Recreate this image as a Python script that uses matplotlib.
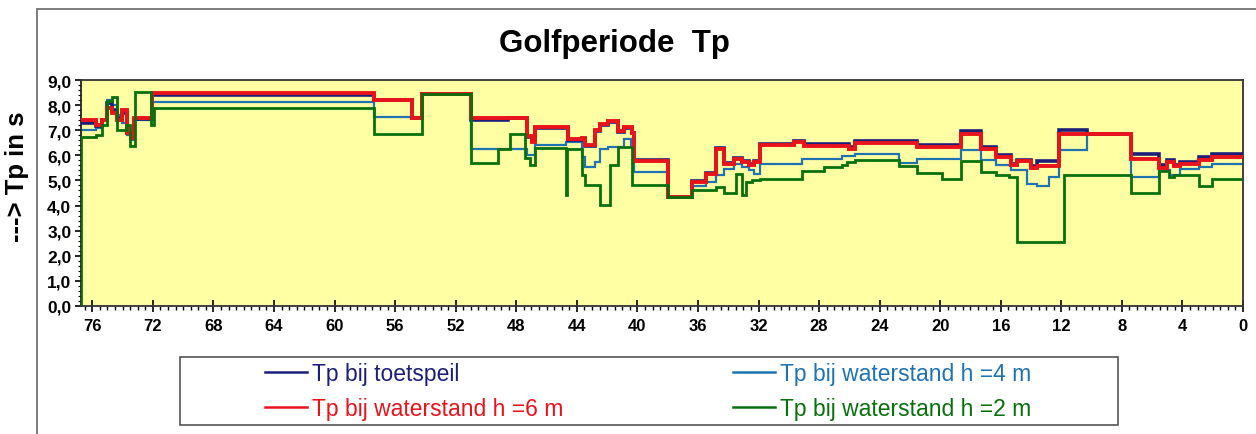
import matplotlib
matplotlib.use("Agg")
import matplotlib.pyplot as plt
from matplotlib.patches import Rectangle
from matplotlib.ticker import MultipleLocator, FuncFormatter

plt.rcParams['font.family'] = ['Liberation Sans', 'DejaVu Sans']

# step series: left edge of each segment (km, decreasing) and Tp value (s)
toets_x = [76.75, 75.78, 75.34, 75.01, 74.68, 74.35, 74.02, 73.69, 73.47, 73.25,
           72.04, 57.43, 54.90, 54.24, 50.99, 48.53, 47.32, 46.99, 46.77, 44.57,
           43.69, 43.47, 42.81, 42.48, 41.93, 41.27, 40.88, 40.35, 40.22, 37.98,
           36.38, 35.50, 34.84, 34.29, 33.63, 33.08, 32.64, 32.31, 31.87, 29.68,
           29.02, 26.05, 25.61, 21.54, 18.64, 17.32, 16.33, 15.34, 14.90, 14.02,
           13.58, 12.15, 10.29, 7.43, 5.56, 5.01, 4.57, 4.13, 2.92, 2.04]
toets_y = [7.30, 7.15, 7.40, 8.10, 7.80, 7.50, 7.70, 6.90, 6.70, 7.45,
           8.42, 8.22, 7.48, 8.45, 7.41, 7.50, 6.75, 6.60, 7.08, 6.62,
           6.66, 6.38, 6.95, 7.22, 7.32, 6.92, 7.08, 6.90, 5.80, 4.36,
           4.98, 5.30, 6.30, 5.70, 5.90, 5.78, 5.64, 5.78, 6.45, 6.58,
           6.45, 6.35, 6.58, 6.42, 6.95, 6.33, 6.00, 5.67, 5.80, 5.56,
           5.76, 7.01, 6.86, 6.05, 5.63, 5.83, 5.63, 5.72, 5.93, 6.05]

h6_x = [76.75, 75.78, 75.34, 75.01, 74.68, 74.35, 74.02, 73.69, 73.47, 73.25,
        72.04, 57.43, 54.90, 54.24, 50.99, 47.32, 46.99, 46.77, 44.57, 43.69,
        43.47, 42.81, 42.48, 41.93, 41.27, 40.88, 40.35, 40.22, 37.98, 36.38,
        35.50, 34.84, 34.29, 33.63, 33.08, 32.64, 32.31, 31.87, 29.68, 29.02,
        26.05, 25.61, 21.54, 18.64, 17.32, 16.33, 15.34, 14.90, 14.02, 13.58,
        12.15, 7.43, 5.56, 5.01, 4.57, 4.13, 2.92, 2.04]
h6_y = [7.40, 7.20, 7.40, 7.90, 7.70, 7.40, 7.80, 6.90, 6.70, 7.50,
        8.49, 8.22, 7.48, 8.45, 7.50, 6.77, 6.55, 7.12, 6.66, 6.70,
        6.42, 7.00, 7.25, 7.36, 6.95, 7.12, 6.90, 5.76, 4.36, 4.94,
        5.27, 6.24, 5.67, 5.87, 5.74, 5.60, 5.74, 6.40, 6.53, 6.37,
        6.27, 6.50, 6.35, 6.86, 6.25, 5.93, 5.63, 5.76, 5.49, 5.59,
        6.86, 5.85, 5.49, 5.72, 5.59, 5.67, 5.83, 5.93]

h4_x = [76.75, 75.78, 75.34, 75.01, 74.68, 74.35, 74.02, 73.69, 73.47, 73.25,
        72.04, 57.43, 54.24, 50.99, 47.32, 46.77, 44.73, 43.69, 43.47, 42.81,
        42.48, 41.93, 40.88, 40.44, 40.22, 37.98, 36.38, 35.50, 34.84, 34.29,
        33.63, 33.08, 32.64, 32.31, 31.87, 29.13, 26.49, 25.61, 22.75, 21.54,
        18.64, 17.32, 16.33, 15.34, 14.24, 13.58, 12.81, 12.15, 10.29, 7.43,
        5.56, 4.79, 4.13, 2.92, 2.04]
h4_y = [7.00, 7.10, 7.40, 8.20, 8.00, 7.60, 7.30, 6.80, 6.60, 7.40,
        8.12, 7.52, 8.45, 6.24, 6.00, 6.42, 6.53, 5.95, 5.54, 5.74,
        6.24, 6.33, 6.66, 6.33, 5.34, 4.36, 4.77, 4.94, 5.23, 5.47,
        5.67, 5.54, 5.41, 5.27, 5.67, 5.87, 5.96, 6.07, 5.71, 5.87,
        6.22, 5.83, 5.63, 5.43, 4.87, 4.79, 5.14, 6.22, 6.86, 5.14,
        5.43, 5.23, 5.45, 5.53, 5.67]

h2_x = [76.75, 76.74, 75.78, 75.34, 75.01, 74.68, 74.35, 73.76, 73.54, 73.21,
        72.15, 71.93, 57.43, 54.24, 50.99, 49.19, 48.42, 47.43, 47.10, 46.77,
        44.73, 44.62, 43.69, 43.47, 42.48, 41.82, 41.27, 40.35, 37.98, 36.38,
        34.84, 34.29, 33.52, 33.08, 32.80, 32.42, 31.87, 29.13, 27.70, 26.49,
        26.16, 25.61, 22.75, 21.54, 19.90, 18.64, 17.32, 16.33, 15.45, 14.95,
        11.82, 7.43, 5.56, 4.90, 4.57, 2.92, 2.04]
h2_y = [0.00, 6.74, 6.80, 7.20, 8.18, 8.32, 7.00, 7.20, 6.38, 8.51,
        7.20, 7.89, 6.83, 8.45, 5.70, 6.24, 6.85, 5.90, 5.60, 6.30,
        4.42, 6.24, 5.20, 4.81, 4.02, 5.63, 6.33, 4.81, 4.36, 4.62,
        4.73, 4.49, 5.27, 4.44, 4.94, 5.00, 5.07, 5.37, 5.54, 5.63,
        5.74, 5.80, 5.57, 5.30, 5.05, 5.76, 5.32, 5.23, 5.14, 2.55,
        5.23, 4.50, 5.36, 5.14, 5.23, 4.79, 5.06]

series = [
    ("Tp bij toetspeil", toets_x, toets_y, "#1b1f7a", 2.6, 3),
    ("Tp bij waterstand h =6 m", h6_x, h6_y, "#e8131b", 2.8, 4),
    ("Tp bij waterstand h =4 m", h4_x, h4_y, "#1f73b3", 1.6, 2),
    ("Tp bij waterstand h =2 m", h2_x, h2_y, "#08700d", 2.0, 5),
]
x_end = 0.0

W, H = 1256, 435
fig = plt.figure(figsize=(W / 100, H / 100), dpi=100)
fig.patch.set_facecolor("white")

# outer frame
fig.patches.append(Rectangle((37 / W, -0.05), 1.0, 1 - 10 / H + 0.05,
                             transform=fig.transFigure, fill=False,
                             edgecolor="#666666", linewidth=1.2))

ax = fig.add_axes([81 / W, 1 - 307 / H, (1243 - 81) / W, (307 - 81) / H])
ax.set_facecolor("#ffffa3")

lines = {}
for label, xs, ys, color, lw, z in series:
    xx = list(xs) + [x_end]
    yy = list(ys) + [ys[-1]]
    ln, = ax.step(xx, yy, where="post", color=color, lw=lw, zorder=z,
                  label=label, solid_joinstyle="miter")
    lines[label] = ln

ax.set_xlim(76.75, 0)
ax.set_ylim(0, 9)
ax.xaxis.set_major_locator(MultipleLocator(4))
ax.xaxis.set_minor_locator(MultipleLocator(0.5))
ax.yaxis.set_major_locator(MultipleLocator(1))
ax.yaxis.set_minor_locator(MultipleLocator(0.2))
ax.yaxis.set_major_formatter(FuncFormatter(lambda v, p: f"{v:.1f}".replace(".", ",")))
ax.xaxis.set_major_formatter(FuncFormatter(lambda v, p: f"{int(round(v))}"))
ax.tick_params(axis="x", which="major", direction="inout", length=8, width=1.2,
               pad=5, labelsize=12)
ax.tick_params(axis="x", which="minor", direction="out", length=3, width=1)
ax.tick_params(axis="y", which="major", direction="out", length=4, width=1.2,
               pad=3, labelsize=12.5)
ax.tick_params(axis="y", which="minor", direction="out", length=2, width=0.8)
for lab in ax.get_xticklabels() + ax.get_yticklabels():
    lab.set_fontweight("bold")
for sp in ax.spines.values():
    sp.set_linewidth(1.3)
    sp.set_color("#333333")
ax.spines["left"].set_color("#222222")

fig.text(614 / W, 1 - 44 / H, "Golfperiode  Tp", ha="center", va="center",
         fontsize=22.5, fontweight="bold")
fig.text(17 / W, 1 - 177 / H, "---> Tp in s", ha="center", va="center",
         rotation=90, fontsize=18.5, fontweight="bold")

# legend box
fig.patches.append(Rectangle((180 / W, 1 - 426 / H), (1118 - 180) / W, (426 - 358) / H,
                             transform=fig.transFigure, fill=True, facecolor="white",
                             edgecolor="#555555", linewidth=1.2))
col1 = [lines["Tp bij toetspeil"], lines["Tp bij waterstand h =6 m"]]
col2 = [lines["Tp bij waterstand h =4 m"], lines["Tp bij waterstand h =2 m"]]
for handles, x0 in [(col1, 265), (col2, 733)]:
    leg = fig.legend(handles=handles, labels=[h.get_label() for h in handles],
                     loc="center left", bbox_to_anchor=(x0 / W, 1 - 392 / H),
                     frameon=False, fontsize=16.5, handlelength=1.85,
                     handletextpad=0.2, labelspacing=0.5, borderpad=0,
                     borderaxespad=0, labelcolor="linecolor")
    for lh in leg.get_lines():
        lh.set_linewidth(1.8)

fig.savefig("out.png", dpi=100)
